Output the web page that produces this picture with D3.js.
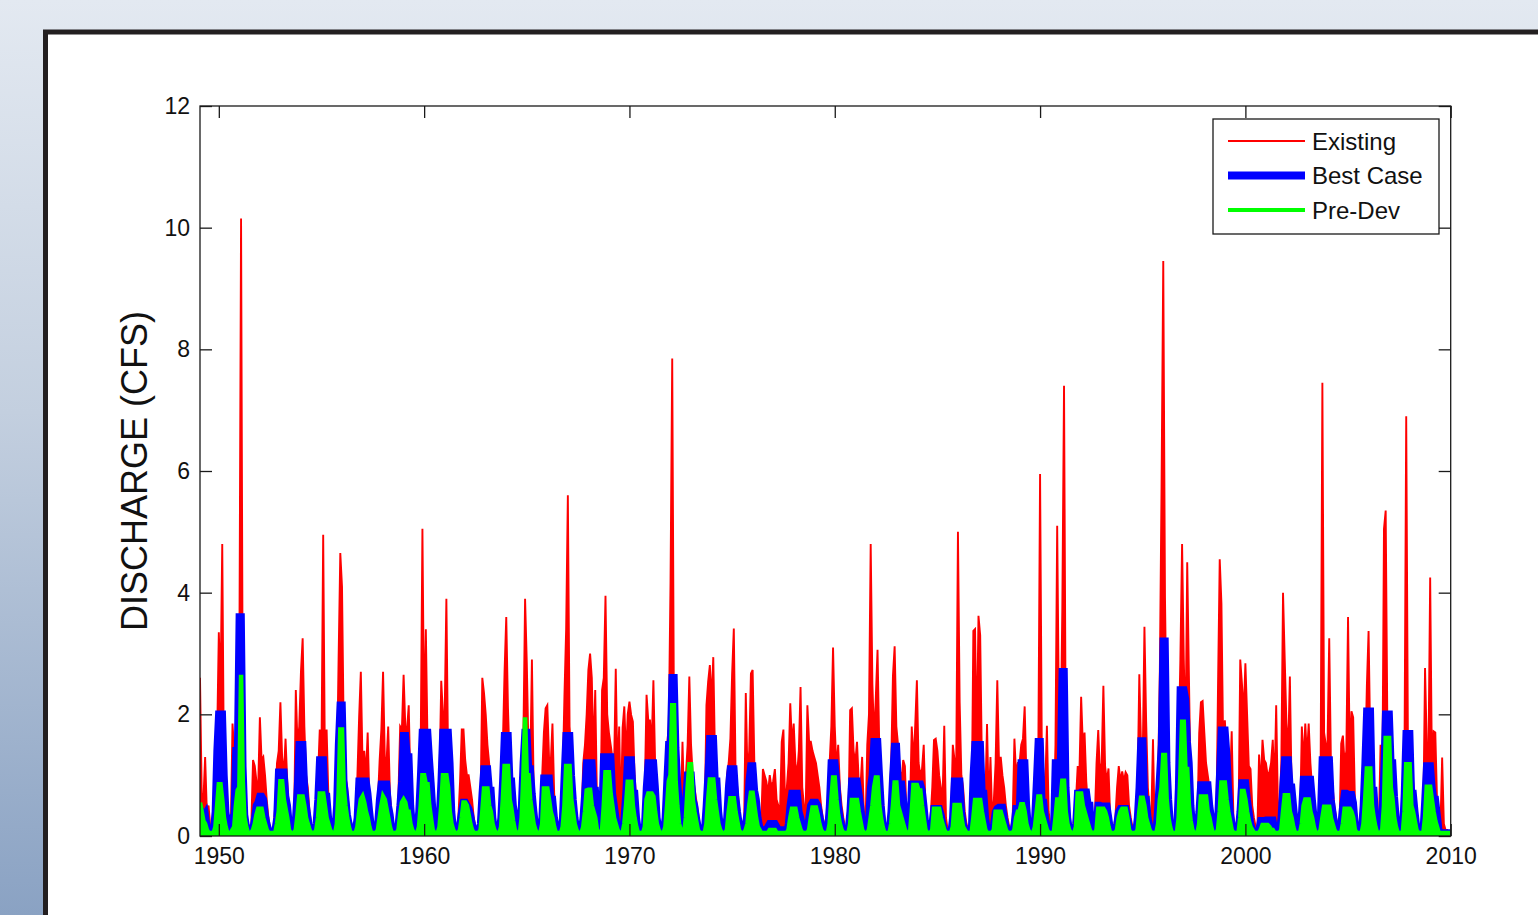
<!DOCTYPE html>
<html>
<head>
<meta charset="utf-8">
<script src="https://cdn.jsdelivr.net/npm/d3@7"></script>
<style>
  body { margin: 0; overflow: hidden; }
  text { font-family: "Liberation Sans", Arial, sans-serif; fill: #111; }
</style>
</head>
<body>
<script>
// monthly values, first point Feb 1949, last point Jan 2010
const startYear = 1949 + 1/12;

const existing = [
  2.6, 0.7, 0.6, 1.3, 0.4, 0.5, 0.15, 0.1, 0.3, 0.9, 1.6,            // 1949 (Feb-Dec)
  3.35, 2.4, 4.8, 1.0, 0.7, 0.35, 0.2, 0.15, 1.85, 1.4, 1.1, 2.2,     // 1950
  2.9, 10.15, 1.9, 0.5, 0.3, 0.2, 0.15, 0.2, 1.25, 1.15, 0.9, 0.8,    // 1951
  1.95, 1.25, 1.3, 1.0, 0.6, 0.3, 0.1, 0.1, 0.15, 0.5, 1.2, 1.4,      // 1952
  2.2, 1.3, 1.0, 1.6, 0.9, 0.4, 0.2, 0.1, 0.2, 2.4, 1.5, 1.8,         // 1953
  2.7, 3.25, 1.8, 1.0, 0.8, 0.4, 0.2, 0.1, 0.2, 0.6, 1.0, 1.75,       // 1954
  1.4, 4.95, 1.2, 1.75, 0.7, 0.3, 0.15, 0.1, 0.3, 1.0, 2.9, 4.65,     // 1955
  4.1, 1.7, 1.0, 0.8, 0.4, 0.2, 0.1, 0.1, 0.3, 1.0, 1.95, 2.7,        // 1956
  1.2, 1.4, 1.0, 1.7, 0.6, 0.3, 0.1, 0.1, 0.2, 0.6, 1.25, 1.75,       // 1957
  2.7, 1.3, 1.2, 1.8, 0.7, 0.35, 0.15, 0.1, 0.2, 0.7, 1.8, 1.75,      // 1958
  2.65, 1.8, 1.75, 2.15, 0.8, 0.3, 0.15, 0.1, 0.3, 0.9, 1.5, 5.05,    // 1959
  1.8, 3.4, 1.5, 1.2, 0.6, 0.3, 0.15, 0.1, 0.3, 1.0, 2.55, 2.0,       // 1960
  2.0, 3.9, 1.3, 1.1, 0.5, 0.2, 0.1, 0.1, 0.3, 0.9, 1.75, 1.75,       // 1961
  1.25, 1.0, 1.0, 0.8, 0.6, 0.3, 0.15, 0.1, 0.2, 0.6, 2.6, 2.35,      // 1962
  2.0, 1.5, 1.2, 0.8, 0.5, 0.2, 0.1, 0.1, 0.3, 1.0, 1.5, 2.7,         // 1963
  3.6, 2.1, 1.2, 0.9, 0.5, 0.3, 0.15, 0.1, 0.4, 1.2, 1.6, 3.9,        // 1964
  2.85, 1.4, 1.1, 2.9, 0.8, 0.3, 0.15, 0.1, 0.3, 1.0, 1.7, 2.1,       // 1965
  2.15, 1.3, 1.2, 1.85, 0.7, 0.3, 0.15, 0.1, 0.3, 1.0, 2.3, 3.4,      // 1966
  5.6, 1.8, 1.4, 1.0, 0.6, 0.3, 0.15, 0.1, 0.3, 1.2, 1.5, 2.0,        // 1967
  2.73, 3.0, 2.6, 1.3, 2.4, 0.6, 0.2, 0.15, 2.4, 2.6, 3.95, 2.0,      // 1968
  1.7, 1.5, 1.3, 1.1, 2.75, 1.0, 1.8, 0.3, 1.78, 2.13, 1.3, 2.0,      // 1969
  2.21, 1.99, 1.88, 1.0, 0.6, 0.3, 0.15, 0.1, 0.2, 0.8, 2.32, 1.9,    // 1970
  1.9, 1.5, 2.56, 1.2, 0.6, 0.3, 0.15, 0.1, 0.3, 1.0, 1.5, 1.8,       // 1971
  4.15, 7.85, 2.0, 1.2, 0.8, 0.4, 0.3, 1.55, 0.5, 1.0, 1.5, 2.62,     // 1972
  1.5, 1.0, 0.8, 0.6, 0.4, 0.2, 0.1, 0.1, 0.3, 2.15, 2.54, 2.81,      // 1973
  2.2, 2.94, 1.3, 1.0, 0.5, 0.3, 0.15, 0.1, 0.3, 1.0, 1.2, 1.6,       // 1974
  2.66, 3.41, 1.1, 0.8, 0.5, 0.2, 0.1, 0.1, 2.35, 1.0, 1.4, 2.67,     // 1975
  2.73, 1.2, 0.8, 0.6, 0.3, 0.2, 1.1, 1.0, 0.9, 0.7, 1.0, 0.8,        // 1976
  0.9, 1.1, 0.6, 0.5, 0.4, 1.55, 1.75, 0.5, 0.8, 1.2, 2.18, 1.5,      // 1977
  1.85, 1.2, 1.0, 1.4, 2.45, 0.8, 0.5, 0.4, 2.15, 1.55, 1.55, 1.4,    // 1978
  1.3, 1.2, 1.0, 0.8, 0.5, 0.3, 0.2, 0.2, 0.6, 1.2, 1.8, 3.1,         // 1979
  1.8, 1.1, 1.5, 0.8, 0.5, 0.3, 0.15, 0.1, 0.3, 2.07, 2.1, 1.4,       // 1980
  1.2, 1.55, 0.9, 0.8, 1.3, 0.4, 0.2, 1.5, 2.0, 4.8, 2.5, 1.6,        // 1981
  2.29, 3.06, 1.5, 1.0, 0.6, 0.3, 0.15, 0.1, 0.4, 1.2, 2.63, 3.12,    // 1982
  1.8, 1.5, 1.1, 0.9, 1.25, 1.15, 0.3, 0.15, 0.5, 1.8, 1.2, 1.8,      // 1983
  2.56, 1.2, 1.0, 1.1, 1.5, 0.5, 0.2, 0.1, 0.3, 0.8, 1.58, 1.6,       // 1984
  1.4, 1.0, 0.8, 0.6, 1.81, 0.3, 0.1, 0.1, 0.3, 1.5, 1.25, 1.2,       // 1985
  5.0, 2.2, 1.0, 0.8, 0.4, 0.2, 0.1, 0.1, 0.3, 3.37, 3.4, 1.5,        // 1986
  3.62, 3.3, 1.2, 0.8, 0.6, 1.84, 0.5, 1.3, 0.3, 0.6, 1.2, 2.56,      // 1987
  1.2, 1.3, 1.0, 0.8, 0.5, 0.3, 0.15, 0.1, 0.3, 1.6, 1.0, 1.2,        // 1988
  1.2, 1.5, 1.6, 2.13, 1.0, 0.4, 0.2, 0.1, 0.3, 1.0, 1.2, 1.5,        // 1989
  5.95, 1.5, 1.0, 0.8, 1.81, 0.4, 0.2, 0.1, 0.3, 1.5, 5.1, 2.0,       // 1990
  1.5, 3.74, 7.4, 1.5, 0.6, 0.3, 0.15, 0.1, 0.3, 0.6, 1.15, 1.05,     // 1991
  2.29, 1.5, 1.7, 0.9, 0.5, 0.3, 0.15, 0.1, 0.3, 1.2, 1.74, 1.0,      // 1992
  1.2, 2.47, 1.15, 0.9, 1.11, 0.3, 0.15, 0.1, 0.3, 0.8, 1.15, 0.9,    // 1993
  1.06, 0.9, 1.05, 1.0, 0.5, 0.3, 0.15, 0.1, 0.3, 0.8, 2.66, 1.5,     // 1994
  1.3, 3.44, 1.88, 0.8, 0.4, 0.3, 1.59, 0.1, 0.3, 1.0, 2.71, 5.75,    // 1995
  9.45, 3.93, 1.8, 1.0, 0.6, 0.3, 0.15, 0.1, 0.3, 1.5, 2.9, 4.8,      // 1996
  2.9, 1.6, 4.5, 2.62, 0.8, 0.4, 0.2, 0.1, 0.3, 1.69, 2.2, 2.22,      // 1997
  1.7, 1.2, 1.0, 0.8, 0.5, 0.3, 0.15, 0.1, 2.45, 4.55, 3.82, 1.5,     // 1998
  1.9, 1.4, 1.2, 0.8, 1.72, 0.3, 0.15, 0.1, 0.3, 2.9, 2.5, 2.0,       // 1999
  2.84, 2.0, 1.15, 1.1, 0.5, 0.3, 0.15, 0.1, 1.34, 0.8, 1.58, 1.25,   // 2000
  1.2, 1.0, 1.05, 1.2, 1.58, 0.8, 2.15, 0.5, 0.5, 1.2, 4.0, 2.9,      // 2001
  1.85, 1.4, 2.62, 0.8, 0.5, 0.3, 0.15, 0.1, 0.3, 1.8, 1.2, 1.85,     // 2002
  1.3, 1.85, 1.2, 0.8, 0.5, 0.3, 0.15, 0.1, 1.25, 7.45, 1.7, 1.5,     // 2003
  1.5, 3.25, 1.2, 0.8, 0.5, 0.3, 0.15, 0.1, 1.52, 1.65, 1.2, 1.4,     // 2004
  3.6, 1.3, 2.05, 1.95, 0.6, 0.3, 0.15, 0.1, 0.3, 1.0, 1.2, 2.47,     // 2005
  3.37, 1.5, 1.2, 0.8, 0.5, 0.3, 0.15, 1.5, 0.6, 5.05, 5.35, 1.75,    // 2006
  1.75, 1.3, 1.0, 0.8, 0.5, 0.3, 0.15, 0.1, 0.3, 1.35, 6.9, 1.5,      // 2007
  1.3, 1.0, 0.9, 0.6, 0.4, 0.2, 0.1, 0.1, 0.3, 2.76, 1.5, 1.3,        // 2008
  4.25, 1.2, 1.72, 1.7, 0.6, 0.3, 0.15, 1.29, 0.2, 0.1, 0.1, 0.05,    // 2009
  0.05                                                                // 2010 (Jan)
];

const bestCase = [
  0.45, 0.35, 0.3, 0.35, 0.15, 0.1, 0.05, 0.05, 0.1, 0.4, 1.4,        // 1949
  2.0, 2.0, 2.0, 1.0, 0.4, 0.15, 0.05, 0.05, 0.3, 0.35, 1.4, 1.4,     // 1950
  3.6, 3.6, 1.15, 0.35, 0.15, 0.08, 0.05, 0.05, 0.1, 0.3, 0.5, 0.55,  // 1951
  0.65, 0.65, 0.6, 0.35, 0.2, 0.1, 0.05, 0.05, 0.05, 0.1, 0.3, 1.05,  // 1952
  1.05, 1.05, 1.05, 0.65, 0.5, 0.2, 0.1, 0.05, 0.05, 0.3, 0.8, 1.5,   // 1953
  1.5, 1.5, 0.8, 0.5, 0.3, 0.1, 0.05, 0.05, 0.05, 0.2, 0.6, 1.25,     // 1954
  1.25, 1.25, 0.65, 0.65, 0.3, 0.1, 0.05, 0.05, 0.1, 0.5, 1.5, 2.15,  // 1955
  2.15, 0.9, 0.65, 0.35, 0.2, 0.1, 0.05, 0.05, 0.1, 0.3, 0.9, 0.9,    // 1956
  0.9, 0.9, 0.9, 0.7, 0.4, 0.15, 0.05, 0.05, 0.05, 0.2, 0.6, 0.85,    // 1957
  0.85, 0.85, 0.85, 0.5, 0.35, 0.1, 0.05, 0.05, 0.05, 0.2, 0.5, 0.9,  // 1958
  1.65, 1.65, 1.3, 1.3, 0.5, 0.15, 0.05, 0.05, 0.1, 0.4, 1.0, 1.7,    // 1959
  1.7, 1.7, 1.7, 1.25, 0.85, 0.4, 0.1, 0.05, 0.05, 0.3, 0.9, 1.7,     // 1960
  1.7, 1.7, 1.7, 1.2, 0.4, 0.1, 0.05, 0.05, 0.05, 0.2, 0.4, 0.55,     // 1961
  0.55, 0.5, 0.45, 0.35, 0.2, 0.1, 0.05, 0.05, 0.05, 0.2, 0.7, 1.1,   // 1962
  1.1, 1.1, 0.75, 0.75, 0.3, 0.1, 0.05, 0.05, 0.05, 0.3, 0.9, 1.65,   // 1963
  1.65, 1.65, 0.9, 0.9, 0.5, 0.3, 0.1, 0.05, 0.1, 0.5, 1.2, 1.7,      // 1964
  1.7, 1.1, 1.1, 0.7, 0.4, 0.15, 0.05, 0.05, 0.05, 0.3, 0.95, 0.95,   // 1965
  0.95, 0.95, 0.6, 0.6, 0.3, 0.1, 0.05, 0.05, 0.05, 0.3, 1.0, 1.65,   // 1966
  1.65, 1.65, 1.0, 0.6, 0.3, 0.1, 0.05, 0.05, 0.05, 0.3, 0.7, 1.2,    // 1967
  1.2, 1.2, 1.2, 0.75, 0.75, 0.3, 0.1, 0.05, 0.3, 1.3, 1.3, 1.3,      // 1968
  1.3, 1.3, 0.7, 0.5, 0.3, 0.1, 0.05, 0.05, 0.05, 0.3, 0.7, 1.25,     // 1969
  1.25, 1.25, 0.7, 0.7, 0.3, 0.1, 0.05, 0.05, 0.05, 0.2, 0.8, 1.2,    // 1970
  1.2, 1.2, 1.2, 0.8, 0.3, 0.1, 0.05, 0.05, 0.05, 0.3, 0.9, 1.5,      // 1971
  1.5, 2.6, 2.6, 1.45, 0.9, 0.5, 0.3, 0.2, 0.3, 0.6, 1.0, 1.0,        // 1972
  1.0, 0.6, 0.5, 0.3, 0.15, 0.1, 0.05, 0.05, 0.1, 0.5, 1.0, 1.6,      // 1973
  1.6, 1.6, 0.9, 0.9, 0.4, 0.15, 0.05, 0.05, 0.05, 0.3, 0.8, 1.1,     // 1974
  1.1, 1.1, 0.65, 0.4, 0.2, 0.1, 0.05, 0.05, 0.2, 0.4, 0.9, 1.15,     // 1975
  1.15, 0.75, 0.6, 0.3, 0.15, 0.1, 0.1, 0.1, 0.1, 0.15, 0.2, 0.2,     // 1976
  0.2, 0.2, 0.15, 0.1, 0.1, 0.1, 0.1, 0.05, 0.05, 0.2, 0.5, 0.7,      // 1977
  0.7, 0.7, 0.7, 0.4, 0.3, 0.15, 0.1, 0.05, 0.1, 0.3, 0.5, 0.55,      // 1978
  0.55, 0.55, 0.5, 0.35, 0.2, 0.1, 0.05, 0.05, 0.1, 0.5, 1.2, 1.2,    // 1979
  1.2, 0.9, 0.5, 0.3, 0.15, 0.05, 0.05, 0.05, 0.1, 0.4, 0.9, 0.9,     // 1980
  0.9, 0.9, 0.7, 0.5, 0.2, 0.1, 0.05, 0.1, 0.3, 0.8, 1.0, 1.55,       // 1981
  1.55, 1.55, 1.0, 0.5, 0.2, 0.1, 0.05, 0.05, 0.1, 0.4, 1.0, 1.47,    // 1982
  1.47, 0.85, 0.85, 0.85, 0.6, 0.2, 0.1, 0.05, 0.1, 0.85, 0.85, 0.85, // 1983
  0.85, 0.85, 0.85, 0.75, 0.5, 0.2, 0.05, 0.05, 0.05, 0.2, 0.45, 0.45,// 1984
  0.45, 0.45, 0.35, 0.2, 0.1, 0.05, 0.05, 0.05, 0.05, 0.3, 0.9, 0.9,  // 1985
  0.9, 0.9, 0.4, 0.2, 0.1, 0.05, 0.05, 0.05, 0.1, 1.0, 1.5, 1.5,      // 1986
  1.5, 1.5, 0.7, 0.7, 0.3, 0.1, 0.05, 0.05, 0.05, 0.2, 0.4, 0.45,     // 1987
  0.47, 0.47, 0.47, 0.3, 0.15, 0.05, 0.05, 0.05, 0.05, 0.2, 0.45, 0.45, // 1988
  0.45, 1.2, 1.2, 1.2, 0.5, 0.15, 0.05, 0.05, 0.05, 0.3, 0.9, 1.55,   // 1989
  1.55, 0.55, 0.55, 0.3, 0.15, 0.05, 0.05, 0.05, 0.1, 1.2, 1.2, 1.2,  // 1990
  1.2, 2.7, 2.7, 0.8, 0.3, 0.1, 0.05, 0.05, 0.05, 0.2, 0.7, 0.7,      // 1991
  0.72, 0.72, 0.72, 0.72, 0.5, 0.5, 0.1, 0.05, 0.05, 0.2, 0.5, 0.5,   // 1992
  0.49, 0.49, 0.49, 0.49, 0.3, 0.1, 0.05, 0.05, 0.05, 0.2, 0.4, 0.45, // 1993
  0.45, 0.45, 0.45, 0.3, 0.15, 0.05, 0.05, 0.05, 0.05, 0.3, 0.8, 1.56, // 1994
  1.56, 0.6, 0.6, 0.3, 0.15, 0.05, 0.05, 0.05, 0.1, 0.5, 1.0, 1.5,    // 1995
  3.2, 3.2, 1.2, 0.6, 0.2, 0.1, 0.05, 0.05, 0.1, 0.8, 2.4, 2.4,       // 1996
  2.4, 2.25, 1.55, 1.2, 0.5, 0.15, 0.05, 0.05, 0.1, 0.4, 0.84, 0.84,  // 1997
  0.84, 0.84, 0.84, 0.5, 0.3, 0.1, 0.05, 0.05, 0.3, 1.0, 1.74, 1.74,  // 1998
  1.74, 1.36, 0.8, 0.4, 0.2, 0.1, 0.05, 0.05, 0.1, 0.4, 0.87, 0.87,   // 1999
  0.87, 0.6, 0.4, 0.2, 0.1, 0.05, 0.05, 0.05, 0.1, 0.25, 0.25, 0.25,  // 2000
  0.26, 0.26, 0.26, 0.26, 0.26, 0.1, 0.1, 0.05, 0.05, 0.3, 0.8, 1.25, // 2001
  1.25, 1.25, 0.8, 0.8, 0.5, 0.2, 0.05, 0.05, 0.1, 0.4, 0.93, 0.93,   // 2002
  0.93, 0.93, 0.93, 0.6, 0.3, 0.1, 0.05, 0.05, 0.3, 1.25, 1.25, 1.25, // 2003
  1.25, 1.25, 0.6, 0.4, 0.2, 0.1, 0.05, 0.05, 0.2, 0.5, 0.7, 0.7,     // 2004
  0.68, 0.68, 0.68, 0.55, 0.2, 0.05, 0.05, 0.05, 0.1, 0.5, 1.2, 2.05, // 2005
  2.05, 2.05, 0.75, 0.75, 0.3, 0.1, 0.05, 0.05, 0.3, 1.0, 2.0, 2.0,   // 2006
  2.0, 1.2, 1.2, 0.65, 0.3, 0.1, 0.05, 0.05, 0.1, 0.7, 1.68, 1.68,    // 2007
  1.68, 0.7, 0.7, 0.4, 0.15, 0.05, 0.05, 0.05, 0.1, 0.6, 1.15, 1.15,  // 2008
  1.15, 0.8, 0.6, 0.6, 0.35, 0.1, 0.05, 0.05, 0.05, 0.05, 0.05, 0.05, // 2009
  0.05                                                                // 2010
];

const preDev = [
  0.55, 0.4, 0.25, 0.2, 0.1, 0.05, 0.05, 0.05, 0.05, 0.15, 0.5,       // 1949
  0.85, 0.85, 0.6, 0.3, 0.15, 0.05, 0.05, 0.05, 0.1, 0.15, 0.5, 0.75, // 1950
  0.8, 2.65, 0.9, 0.3, 0.15, 0.05, 0.05, 0.05, 0.1, 0.2, 0.35, 0.45,  // 1951
  0.45, 0.45, 0.3, 0.2, 0.1, 0.05, 0.05, 0.05, 0.05, 0.05, 0.2, 0.4,  // 1952
  0.9, 0.9, 0.6, 0.45, 0.3, 0.1, 0.05, 0.05, 0.05, 0.1, 0.35, 0.65,   // 1953
  0.65, 0.65, 0.5, 0.3, 0.2, 0.1, 0.05, 0.05, 0.05, 0.1, 0.3, 0.7,    // 1954
  0.7, 0.7, 0.5, 0.3, 0.2, 0.1, 0.05, 0.05, 0.05, 0.2, 0.7, 1.75,     // 1955
  1.75, 0.8, 0.5, 0.3, 0.15, 0.05, 0.05, 0.05, 0.05, 0.15, 0.4, 0.6,  // 1956
  0.65, 0.55, 0.4, 0.3, 0.15, 0.05, 0.05, 0.05, 0.05, 0.1, 0.3, 0.5,  // 1957
  0.65, 0.6, 0.45, 0.3, 0.15, 0.05, 0.05, 0.05, 0.05, 0.1, 0.35, 0.55,// 1958
  0.6, 0.55, 0.4, 0.4, 0.2, 0.1, 0.05, 0.05, 0.05, 0.15, 0.5, 1.0,    // 1959
  1.0, 0.85, 0.85, 0.5, 0.3, 0.1, 0.05, 0.05, 0.05, 0.15, 0.5, 1.0,   // 1960
  1.0, 1.0, 0.8, 0.4, 0.2, 0.1, 0.05, 0.05, 0.05, 0.1, 0.3, 0.55,     // 1961
  0.55, 0.5, 0.35, 0.2, 0.1, 0.05, 0.05, 0.05, 0.05, 0.1, 0.4, 0.78,  // 1962
  0.78, 0.78, 0.5, 0.4, 0.2, 0.1, 0.05, 0.05, 0.05, 0.15, 0.6, 1.15,  // 1963
  1.15, 1.15, 0.6, 0.45, 0.25, 0.1, 0.05, 0.05, 0.05, 0.3, 1.0, 1.95, // 1964
  1.0, 1.0, 0.6, 0.4, 0.2, 0.1, 0.05, 0.05, 0.05, 0.2, 0.78, 0.78,    // 1965
  0.78, 0.6, 0.4, 0.3, 0.15, 0.05, 0.05, 0.05, 0.05, 0.15, 0.5, 1.15, // 1966
  1.15, 1.15, 0.6, 0.4, 0.2, 0.1, 0.05, 0.05, 0.05, 0.15, 0.4, 0.75,  // 1967
  0.76, 0.76, 0.5, 0.4, 0.3, 0.1, 0.05, 0.05, 0.1, 0.5, 1.05, 1.05,   // 1968
  1.05, 0.7, 0.5, 0.3, 0.2, 0.1, 0.05, 0.05, 0.05, 0.2, 0.5, 0.89,    // 1969
  0.89, 0.89, 0.5, 0.3, 0.15, 0.05, 0.05, 0.05, 0.05, 0.15, 0.6, 0.7, // 1970
  0.7, 0.7, 0.65, 0.4, 0.2, 0.1, 0.05, 0.05, 0.05, 0.15, 0.5, 0.9,    // 1971
  1.0, 2.15, 2.15, 0.9, 0.5, 0.2, 0.1, 0.05, 0.05, 0.3, 0.8, 1.18,    // 1972
  1.18, 0.6, 0.4, 0.25, 0.1, 0.05, 0.05, 0.05, 0.05, 0.2, 0.6, 0.93,  // 1973
  0.93, 0.93, 0.6, 0.4, 0.2, 0.1, 0.05, 0.05, 0.05, 0.1, 0.4, 0.62,   // 1974
  0.62, 0.62, 0.4, 0.25, 0.1, 0.05, 0.05, 0.05, 0.1, 0.2, 0.5, 0.71,  // 1975
  0.71, 0.5, 0.3, 0.15, 0.1, 0.05, 0.05, 0.05, 0.05, 0.05, 0.1, 0.1,  // 1976
  0.1, 0.1, 0.05, 0.05, 0.05, 0.05, 0.05, 0.05, 0.05, 0.1, 0.3, 0.45, // 1977
  0.45, 0.45, 0.3, 0.2, 0.1, 0.05, 0.05, 0.05, 0.05, 0.1, 0.3, 0.47,  // 1978
  0.47, 0.47, 0.35, 0.2, 0.1, 0.05, 0.05, 0.05, 0.05, 0.2, 0.6, 0.96, // 1979
  0.96, 0.6, 0.35, 0.2, 0.1, 0.05, 0.05, 0.05, 0.05, 0.2, 0.59, 0.59, // 1980
  0.59, 0.59, 0.4, 0.25, 0.1, 0.05, 0.05, 0.05, 0.1, 0.3, 0.5, 0.8,   // 1981
  0.96, 0.96, 0.5, 0.3, 0.15, 0.05, 0.05, 0.05, 0.05, 0.2, 0.5, 0.88, // 1982
  0.88, 0.5, 0.4, 0.3, 0.2, 0.1, 0.05, 0.05, 0.05, 0.4, 0.84, 0.84,   // 1983
  0.84, 0.75, 0.75, 0.5, 0.3, 0.1, 0.05, 0.05, 0.05, 0.1, 0.45, 0.45, // 1984
  0.45, 0.45, 0.3, 0.2, 0.1, 0.05, 0.05, 0.05, 0.05, 0.15, 0.51, 0.51,// 1985
  0.51, 0.51, 0.3, 0.15, 0.1, 0.05, 0.05, 0.05, 0.05, 0.3, 0.59, 0.59,// 1986
  0.59, 0.59, 0.4, 0.25, 0.1, 0.05, 0.05, 0.05, 0.05, 0.1, 0.4, 0.4,  // 1987
  0.4, 0.4, 0.3, 0.2, 0.1, 0.05, 0.05, 0.05, 0.05, 0.1, 0.3, 0.4,     // 1988
  0.4, 0.52, 0.52, 0.4, 0.2, 0.1, 0.05, 0.05, 0.05, 0.15, 0.4, 0.65,  // 1989
  0.65, 0.4, 0.3, 0.2, 0.1, 0.05, 0.05, 0.05, 0.05, 0.3, 0.6, 0.6,    // 1990
  0.6, 0.91, 0.91, 0.4, 0.2, 0.1, 0.05, 0.05, 0.05, 0.15, 0.7, 0.7,   // 1991
  0.7, 0.5, 0.4, 0.3, 0.2, 0.1, 0.05, 0.05, 0.05, 0.1, 0.45, 0.45,    // 1992
  0.45, 0.45, 0.4, 0.3, 0.15, 0.05, 0.05, 0.05, 0.05, 0.1, 0.3, 0.4,  // 1993
  0.45, 0.45, 0.45, 0.3, 0.1, 0.05, 0.05, 0.05, 0.05, 0.1, 0.4, 0.63, // 1994
  0.63, 0.5, 0.3, 0.2, 0.1, 0.05, 0.05, 0.05, 0.05, 0.2, 0.6, 0.8,    // 1995
  1.33, 1.33, 0.6, 0.3, 0.15, 0.05, 0.05, 0.05, 0.05, 0.3, 1.0, 1.88, // 1996
  1.88, 1.1, 1.1, 0.5, 0.25, 0.1, 0.05, 0.05, 0.05, 0.2, 0.65, 0.65,  // 1997
  0.65, 0.65, 0.4, 0.3, 0.15, 0.05, 0.05, 0.05, 0.1, 0.4, 0.88, 0.88, // 1998
  0.88, 0.6, 0.4, 0.25, 0.1, 0.05, 0.05, 0.05, 0.05, 0.3, 0.74, 0.74, // 1999
  0.6, 0.4, 0.25, 0.15, 0.1, 0.05, 0.05, 0.05, 0.05, 0.1, 0.18, 0.18, // 2000
  0.18, 0.18, 0.15, 0.1, 0.1, 0.05, 0.05, 0.05, 0.05, 0.1, 0.4, 0.67, // 2001
  0.67, 0.67, 0.4, 0.3, 0.15, 0.05, 0.05, 0.05, 0.05, 0.2, 0.5, 0.6,  // 2002
  0.6, 0.6, 0.4, 0.3, 0.15, 0.05, 0.05, 0.05, 0.1, 0.3, 0.48, 0.48,   // 2003
  0.48, 0.48, 0.3, 0.2, 0.1, 0.05, 0.05, 0.05, 0.05, 0.2, 0.45, 0.45, // 2004
  0.45, 0.45, 0.4, 0.3, 0.1, 0.05, 0.05, 0.05, 0.05, 0.2, 0.6, 1.11,  // 2005
  1.11, 1.11, 0.5, 0.3, 0.15, 0.05, 0.05, 0.05, 0.1, 0.5, 1.61, 1.61, // 2006
  1.61, 0.8, 0.6, 0.3, 0.15, 0.05, 0.05, 0.05, 0.05, 0.4, 1.18, 1.18, // 2007
  1.18, 0.5, 0.4, 0.25, 0.1, 0.05, 0.05, 0.05, 0.05, 0.3, 0.81, 0.81, // 2008
  0.81, 0.6, 0.4, 0.25, 0.15, 0.05, 0.05, 0.05, 0.05, 0.05, 0.05, 0.05, // 2009
  0.05                                                                // 2010
];

const yearTicks = [1950, 1960, 1970, 1980, 1990, 2000, 2010];
const valueTicks = [0, 2, 4, 6, 8, 10, 12];
const seriesNames = ['Existing', 'Best Case', 'Pre-Dev'];
const seriesColors = ['#ff0000', '#0000ff', '#00ff00'];
const seriesWidths = [1.9, 7.5, 4.5];
const legendWidths = [2, 8, 4];

const W = 1538, H = 915;
const svg = d3.select('body').append('svg')
    .attr('width', W)
    .attr('height', H);

// page background
const grad = svg.append('defs').append('linearGradient')
    .attr('id', 'bg').attr('x1', 0).attr('y1', 0).attr('x2', 0).attr('y2', 1);
grad.append('stop').attr('offset', '0%').attr('stop-color', '#e3e9f1');
grad.append('stop').attr('offset', '45%').attr('stop-color', '#c3cfdf');
grad.append('stop').attr('offset', '100%').attr('stop-color', '#8aa2c3');
svg.append('rect').attr('width', W).attr('height', H).attr('fill', 'url(#bg)');

// white figure panel with dark frame
svg.append('rect')
    .attr('x', 45.5).attr('y', 32)
    .attr('width', 1600).attr('height', 1000)
    .attr('fill', '#fff')
    .attr('stroke', '#231f20')
    .attr('stroke-width', 5);

const plotL = 200, plotR = 1450.7, plotT = 106, plotB = 836;

const x = d3.scaleLinear().domain([startYear, 2010]).range([plotL, plotR]);
const y = d3.scaleLinear().domain([0, 12]).range([plotB, plotT]);

svg.append('clipPath').attr('id', 'plotclip')
    .append('rect')
    .attr('x', plotL).attr('y', plotT)
    .attr('width', plotR - plotL).attr('height', plotB - plotT);

const tx = (d, i) => x(startYear + i / 12);
const line = d3.line().x(tx).y(d => y(d));
// the dense original record renders as solid bands under each trace
const band = d3.area().x(tx).y0(y(0)).y1(d => y(d));

const plot = svg.append('g').attr('clip-path', 'url(#plotclip)');
[existing, bestCase, preDev].forEach((s, k) => {
    plot.append('path')
        .datum(s)
        .attr('d', band)
        .attr('fill', seriesColors[k]);
    plot.append('path')
        .datum(s)
        .attr('d', line)
        .attr('fill', 'none')
        .attr('stroke', seriesColors[k])
        .attr('stroke-width', seriesWidths[k])
        .attr('stroke-linejoin', 'miter');
});

// axes, ticks pointing inward on all four sides
function styleAxis(g) {
    g.select('.domain').remove();
    g.selectAll('.tick line').attr('stroke', '#1a1a1a').attr('stroke-width', 1.3);
    g.selectAll('.tick text')
        .attr('font-family', '"Liberation Sans", Arial, sans-serif')
        .attr('font-size', 23)
        .attr('fill', '#111');
}

svg.append('g').attr('transform', `translate(0,${plotB})`)
    .call(d3.axisBottom(x).tickValues(yearTicks).tickSize(-12).tickPadding(12).tickFormat(d3.format('d')))
    .call(styleAxis);
svg.append('g').attr('transform', `translate(0,${plotT})`)
    .call(d3.axisTop(x).tickValues(yearTicks).tickSize(-12).tickFormat(''))
    .call(styleAxis);
svg.append('g').attr('transform', `translate(${plotL},0)`)
    .call(d3.axisLeft(y).tickValues(valueTicks).tickSize(-12).tickPadding(10))
    .call(styleAxis);
svg.append('g').attr('transform', `translate(${plotR},0)`)
    .call(d3.axisRight(y).tickValues(valueTicks).tickSize(-12).tickFormat(''))
    .call(styleAxis);

svg.append('rect')
    .attr('x', plotL).attr('y', plotT)
    .attr('width', plotR - plotL).attr('height', plotB - plotT)
    .attr('fill', 'none')
    .attr('stroke', '#1a1a1a')
    .attr('stroke-width', 1.3);

svg.append('text')
    .attr('transform', `translate(134,${(plotT + plotB) / 2}) rotate(-90)`)
    .attr('text-anchor', 'middle')
    .attr('dy', '0.36em')
    .attr('font-size', 36)
    .text('DISCHARGE (CFS)');

// legend
const lg = svg.append('g').attr('transform', 'translate(1213,119)');
lg.append('rect')
    .attr('width', 226).attr('height', 115)
    .attr('fill', '#fff')
    .attr('stroke', '#1a1a1a')
    .attr('stroke-width', 1.3);
seriesNames.forEach((name, k) => {
    const ly = 22 + k * 34.5;
    lg.append('line')
        .attr('x1', 15).attr('x2', 92)
        .attr('y1', ly).attr('y2', ly)
        .attr('stroke', seriesColors[k])
        .attr('stroke-width', legendWidths[k]);
    lg.append('text')
        .attr('x', 99).attr('y', ly)
        .attr('dy', '0.36em')
        .attr('font-size', 24)
        .text(name);
});
</script>
</body>
</html>
